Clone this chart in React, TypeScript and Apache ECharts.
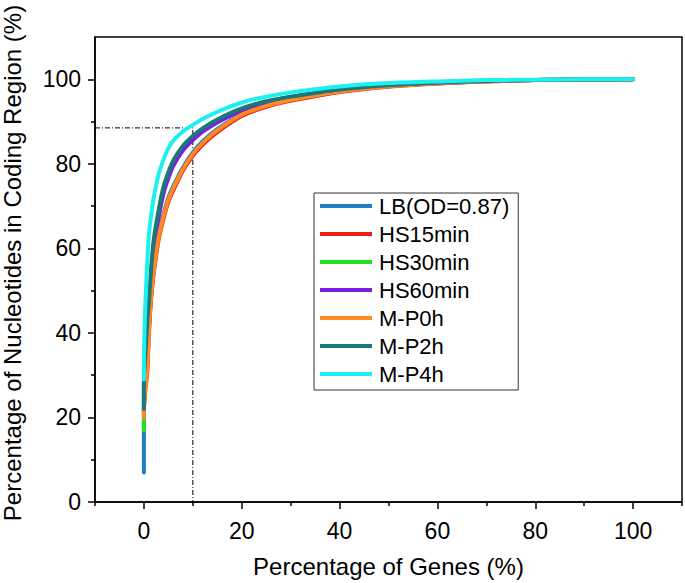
import React, { useEffect, useRef } from "react";
import * as echarts from "echarts";

// Percentage of genes (x) shared by all curves
const genePct = [0, 0, 0.3, 0.7, 1, 1.5, 2, 3, 4, 5, 6, 8, 10, 12, 15, 20, 25, 30, 40, 50, 60, 70, 80, 90, 100];

const seriesNames = ["LB(OD=0.87)", "HS15min", "HS30min", "HS60min", "M-P0h", "M-P2h", "M-P4h"];
const seriesColors = ["#1f7fc4", "#ee1c1c", "#22e022", "#7a1fe0", "#ff8a1f", "#1a7878", "#1df0f0"];

const lb = [7, 23, 28, 33, 40.5, 49.5, 55, 63, 68, 72, 74.7, 79.2, 82.7, 85.3, 88.2, 91.8, 93.9, 95.3, 97.2, 98.4, 99.05, 99.55, 99.8, 99.95, 100];
const hs15 = [20, 21.5, 26.5, 31, 39.5, 48.5, 54, 62, 67, 71, 73.7, 78.4, 81.9, 84.5, 87.5, 91.3, 93.5, 94.9, 97, 98.25, 99, 99.5, 99.8, 99.95, 100];
const hs30 = [17, 28, 34, 42, 46, 54.5, 61, 68, 73.6, 77.2, 80, 83.6, 86, 87.9, 90.1, 92.8, 94.6, 95.8, 97.5, 98.55, 99.15, 99.6, 99.85, 99.95, 100];
const hs60 = [21, 27.5, 33.5, 41.5, 45.5, 53.5, 60, 67.3, 73, 76.6, 79.5, 83.2, 85.6, 87.6, 89.8, 92.6, 94.5, 95.7, 97.45, 98.5, 99.1, 99.6, 99.85, 99.95, 100];
const mp0 = [20, 22, 27, 31.5, 40, 49, 54.5, 62.5, 67.5, 71.5, 74.2, 78.8, 82.3, 84.9, 87.9, 91.6, 93.7, 95.1, 97.1, 98.3, 99, 99.5, 99.8, 99.95, 100];
const mp2 = [22, 29, 35, 43, 47, 55.5, 62, 69, 74.5, 78, 80.8, 84.3, 86.6, 88.4, 90.5, 93.1, 94.8, 95.9, 97.6, 98.6, 99.2, 99.6, 99.85, 99.95, 100];
const mp4 = [29, 33, 47, 57, 63, 68, 72, 77.5, 81, 83.7, 85.5, 87.7, 89.2, 90.6, 92.3, 94.5, 95.9, 96.9, 98.3, 99.1, 99.5, 99.8, 99.9, 100, 100];
const seriesValues = [lb, hs15, hs30, hs60, mp0, mp2, mp4];

// dashed guide: (x=-10, 88.5) -> (10, 88.5) -> (10, 0)
const guideX = [-10, 10, 10];
const guideY = [88.5, 88.5, 0];

const xMajorTicks = [0, 20, 40, 60, 80, 100];
const xMinorTicks = [-10, 10, 30, 50, 70, 90, 110];
const yMajorTicks = [0, 20, 40, 60, 80, 100];
const yMinorTicks = [10, 30, 50, 70, 90];

const FONT = "Liberation Sans, Arial, Helvetica, sans-serif";

export default function App() {
  const ref = useRef<HTMLDivElement>(null);
  useEffect(() => {
    if (!ref.current) return;
    const chart = echarts.init(ref.current, undefined, { renderer: "svg" });
    const lines = seriesNames.map((name, i) => ({
      name,
      type: "line",
      data: genePct.map((x, j) => [x, seriesValues[i][j]]),
      showSymbol: false,
      symbol: "none",
      smooth: 0.25,
      color: seriesColors[i],
      lineStyle: { width: 4, color: seriesColors[i], cap: "round", join: "round" },
      z: 2 + i,
    }));
    const tickStyle = { color: "#000", width: 1.5 };
    chart.setOption({
      animation: false,
      backgroundColor: "#fff",
      grid: {
        left: 95,
        right: 3,
        top: 37,
        bottom: 80,
        show: true,
        borderColor: "#000",
        borderWidth: 1.5,
        backgroundColor: "transparent",
      },
      xAxis: [
        {
          type: "value",
          min: -10,
          max: 110,
          interval: 10,
          position: "bottom",
          name: "Percentage of Genes (%)",
          nameLocation: "middle",
          nameGap: 52,
          nameTextStyle: { fontSize: 24, color: "#000", fontFamily: FONT },
          axisLine: { show: true, onZero: false, lineStyle: tickStyle },
          axisTick: { show: true, inside: false, length: 7, customValues: xMajorTicks, lineStyle: tickStyle },
          axisLabel: { customValues: xMajorTicks, fontSize: 23, color: "#000", fontFamily: FONT, margin: 17 },
          splitLine: { show: false },
        },
        {
          type: "value",
          min: -10,
          max: 110,
          interval: 10,
          position: "bottom",
          offset: 0,
          axisLine: { show: false, onZero: false },
          axisTick: { show: true, inside: false, length: 4, customValues: xMinorTicks, lineStyle: tickStyle },
          axisLabel: { show: false },
          splitLine: { show: false },
        },
      ],
      yAxis: [
        {
          type: "value",
          min: 0,
          max: 110,
          interval: 10,
          position: "left",
          axisLine: { show: true, onZero: false, lineStyle: tickStyle },
          axisTick: { show: true, inside: false, length: 7, customValues: yMajorTicks, lineStyle: tickStyle },
          axisLabel: { customValues: yMajorTicks, fontSize: 23, color: "#000", fontFamily: FONT, margin: 14 },
          splitLine: { show: false },
        },
        {
          type: "value",
          min: 0,
          max: 110,
          interval: 10,
          position: "left",
          offset: 0,
          axisLine: { show: false, onZero: false },
          axisTick: { show: true, inside: false, length: 4, customValues: yMinorTicks, lineStyle: tickStyle },
          axisLabel: { show: false },
          splitLine: { show: false },
        },
      ],
      legend: {
        data: seriesNames,
        orient: "vertical",
        left: 314,
        top: 193,
        padding: [1, 9, 4, 6],
        borderColor: "#333",
        borderWidth: 1,
        icon: "rect",
        itemWidth: 52,
        itemHeight: 4,
        itemGap: 4,
        textStyle: { fontSize: 22, color: "#000", fontFamily: FONT, lineHeight: 24, padding: [0, 0, 0, 2] },
      },
      graphic: [
        {
          type: "text",
          x: 12,
          y: 263,
          rotation: Math.PI / 2,
          style: {
            text: "Percentage of Nucleotides in Coding Region (%)",
            fontSize: 24,
            fontFamily: FONT,
            fill: "#000",
            textAlign: "center",
            textVerticalAlign: "middle",
          },
        },
      ],
      series: [
        ...lines,
        {
          name: "guide",
          type: "line",
          data: guideX.map((x, j) => [x, guideY[j]]),
          showSymbol: false,
          symbol: "none",
          silent: true,
          lineStyle: { width: 1, color: "#000", type: [5, 2, 1, 2] },
          z: 1,
        },
      ],
    });
    return () => chart.dispose();
  }, []);
  return (
    <div
      ref={ref}
      style={{ position: "fixed", left: 0, top: 0, width: 685, height: 583, background: "#fff" }}
    />
  );
}
